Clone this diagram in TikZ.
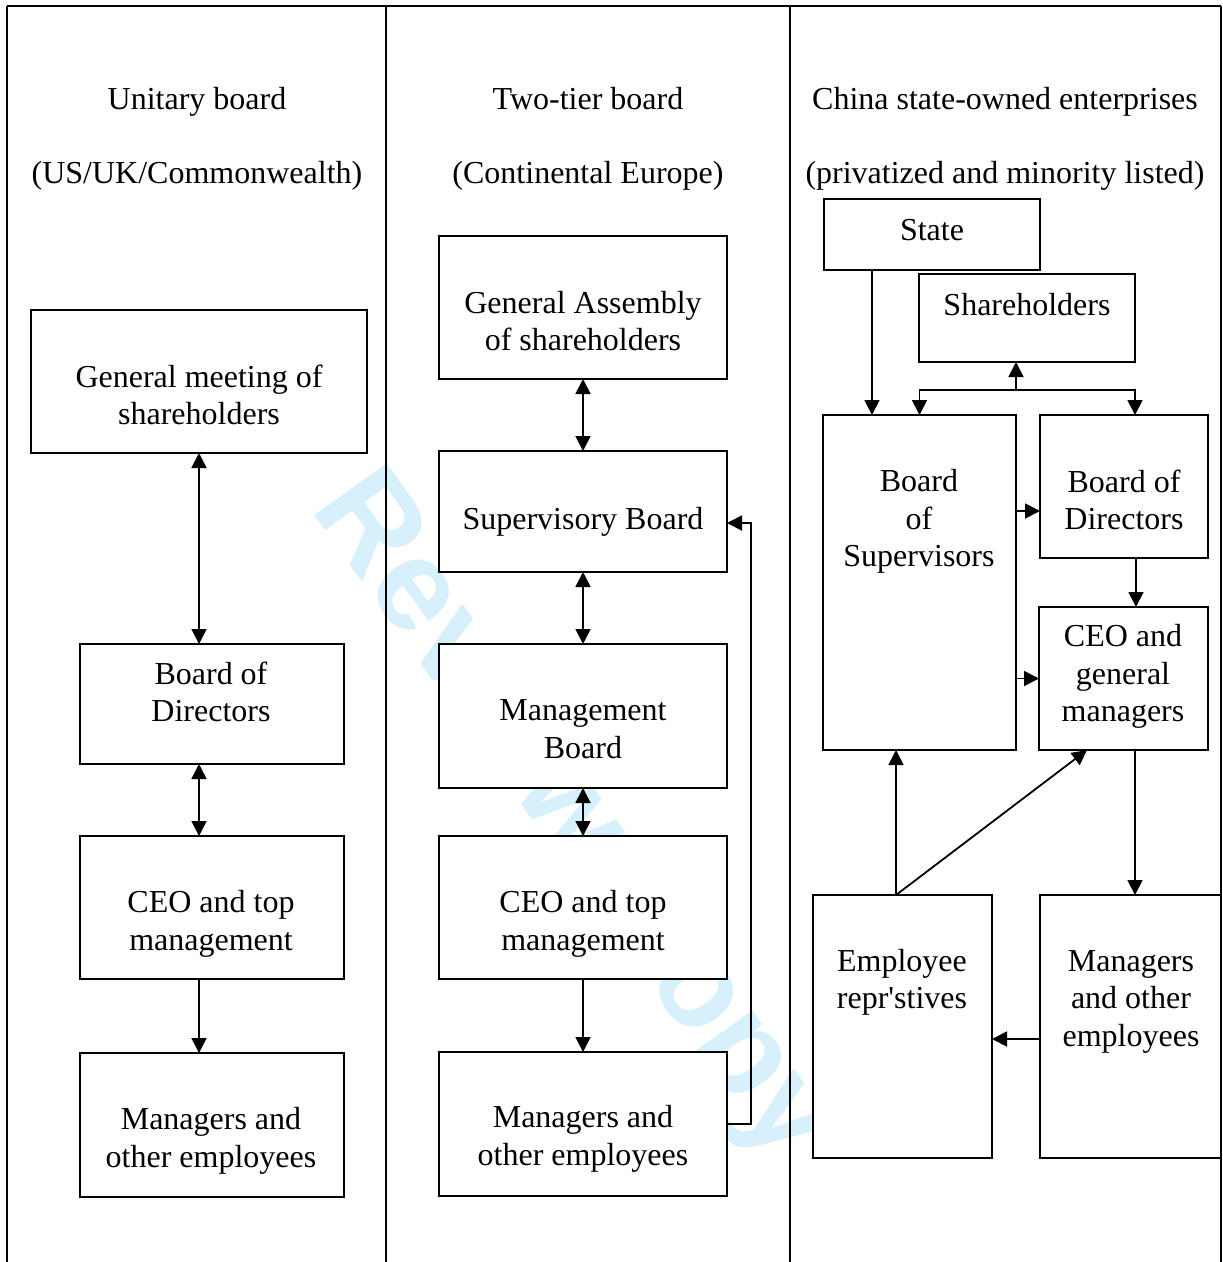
\documentclass[tikz,border=0pt]{standalone}
\usepackage{fontspec}
\setmainfont{Liberation Serif}
\newfontfamily\wmfont{Liberation Sans}
\usetikzlibrary{arrows.meta}
\definecolor{wmblue}{RGB}{214,240,252}
\begin{document}
\begin{tikzpicture}[x=1pt,y=-1pt,
  every node/.style={font=\fontsize{32}{37.5}\selectfont},
  boxst/.style={draw,line width=2pt,fill=white,inner sep=0pt,outer sep=0pt},
  txt/.style={align=center,inner sep=0pt},
  ttl/.style={inner sep=0pt,anchor=base},
  arr/.style={line width=1.8pt,-{Triangle[length=15pt,width=15pt]}},
  darr/.style={line width=1.8pt,{Triangle[length=15pt,width=15pt]}-{Triangle[length=15pt,width=15pt]}},
  frame/.style={line width=2pt}]
\useasboundingbox (0,0) rectangle (1223,1262);
% watermark
\node[font=\wmfont\bfseries\fontsize{130}{130}\selectfont,text=wmblue,rotate=-54.5] (wm) at (572,818) {Review Copy};
% frame
\coordinate (f1) at (7,6); \coordinate (f2) at (386,6); \coordinate (f3) at (790,6); \coordinate (f4) at (1221,6);
\draw[frame] (f1) -- (f4);
\draw[frame] (f1) -- (7,1262);
\draw[frame] (f2) -- (386,1262);
\draw[frame] (f3) -- (790,1262);
\draw[frame] (f4) -- (1221,1262);
% titles
\node[ttl] (t1a) at (197,109) {Unitary board};
\node[ttl] (t1b) at (197,183) {(US/UK/Commonwealth)};
\node[ttl] (t2a) at (588,109) {Two-tier board};
\node[ttl] (t2b) at (588,183) {(Continental Europe)};
\node[ttl] (t3a) at (1005,109) {China state-owned enterprises};
\node[ttl] (t3b) at (1005,183) {(privatized and minority listed)};
% column 1 boxes
\node[boxst,minimum width=336pt,minimum height=143pt] (GM) at (199,381.5) {};
\node[boxst,minimum width=264pt,minimum height=120pt] (BD1) at (212,704) {};
\node[boxst,minimum width=264pt,minimum height=143pt] (CEO1) at (212,907.5) {};
\node[boxst,minimum width=264pt,minimum height=144pt] (MAN1) at (212,1125) {};
\node[txt] (GMt) at (199,395) {General meeting of\\shareholders};
\node[txt] (BD1t) at (211,692) {Board of\\Directors};
\node[txt] (CEO1t) at (211,924) {CEO and top\\management};
\node[txt] (MAN1t) at (211,1141) {Managers and\\other employees};
\draw[darr] (GM.south) -- (GM.south |- BD1.north);
\draw[darr] (BD1.south -| GM.south) -- (CEO1.north -| GM.south);
\draw[arr] (CEO1.south -| GM.south) -- (MAN1.north -| GM.south);
% column 2 boxes
\node[boxst,minimum width=288pt,minimum height=143pt] (GA) at (583,307.5) {};
\node[boxst,minimum width=288pt,minimum height=121pt] (SB) at (583,511.5) {};
\node[boxst,minimum width=288pt,minimum height=144pt] (MB) at (583,716) {};
\node[boxst,minimum width=288pt,minimum height=143pt] (CEO2) at (583,907.5) {};
\node[boxst,minimum width=288pt,minimum height=144pt] (MAN2) at (583,1124) {};
\node[txt] (GAt) at (583,321) {General Assembly\\of shareholders};
\node[txt] (SBt) at (583,522) {Supervisory Board};
\node[txt] (MBt) at (583,729) {Management\\Board};
\node[txt] (CEO2t) at (583,924) {CEO and top\\management};
\node[txt] (MAN2t) at (583,1139) {Managers and\\other employees};
\draw[darr] (GA.south) -- (SB.north);
\draw[darr] (SB.south) -- (MB.north);
\draw[darr] (MB.south) -- (CEO2.north);
\draw[arr] (CEO2.south) -- (MAN2.north);
\coordinate (fb) at (751,523);
\draw[arr] (MAN2.east) -| (fb) -- (fb -| SB.east);
% column 3 boxes
\node[boxst,minimum width=216pt,minimum height=71pt] (ST) at (932,234.5) {};
\node[boxst,minimum width=216pt,minimum height=88pt] (SH) at (1027,318) {};
\node[boxst,minimum width=193pt,minimum height=335pt] (BS) at (919.5,582.5) {};
\node[boxst,minimum width=168pt,minimum height=143pt] (BD3) at (1124,486.5) {};
\node[boxst,minimum width=169pt,minimum height=143pt] (CEO3) at (1123.5,678.5) {};
\node[boxst,minimum width=179pt,minimum height=263pt] (EMP) at (902.5,1026.5) {};
\node[boxst,minimum width=181pt,minimum height=263pt] (MAN3) at (1130.5,1026.5) {};
\node[txt] (STt) at (932,230) {State};
\node[txt] (SHt) at (1027,305) {Shareholders};
\node[txt] (BSt) at (919,521.5) {Board\\of\\Supervisors};
\node[txt] (BD3t) at (1124,500) {Board of\\Directors};
\node[txt] (CEO3t) at (1123,676.5) {CEO and\\general\\managers};
\node[txt] (EMPt) at (902,982.5) {Employee\\repr\textquotesingle stives};
\node[txt] (MAN3t) at (1131,1001.5) {Managers\\and other\\employees};
% column 3 connectors
\coordinate (sp) at ([xshift=-60pt]ST.south);
\draw[arr] (sp) -- (sp |- BS.north);
\coordinate (j) at (1016,390);
\draw[arr] (j) -- (j |- SH.south);
\draw[arr] (j) -| (BS.north);
\draw[arr] (j) -| ([xshift=11pt]BD3.north);
\coordinate (bb) at ([yshift=-24.5pt]BD3.west);
\draw[arr] (bb -| BS.east) -- (bb);
\draw[arr] (CEO3.west -| BS.east) -- (CEO3.west);
\coordinate (bd) at ([xshift=12pt]BD3.south);
\draw[arr] (bd) -- (bd |- CEO3.north);
\coordinate (ep) at ([xshift=-6.5pt]EMP.north);
\draw[arr] (ep) -- (ep |- BS.south);
\draw[arr] (ep) -- ([xshift=-36.5pt]CEO3.south);
\coordinate (cm) at ([xshift=11.5pt]CEO3.south);
\draw[arr] (cm) -- (cm |- MAN3.north);
\coordinate (me) at ([yshift=-12.5pt]MAN3.west);
\draw[arr] (me) -- (me -| EMP.east);
\end{tikzpicture}
\end{document}
